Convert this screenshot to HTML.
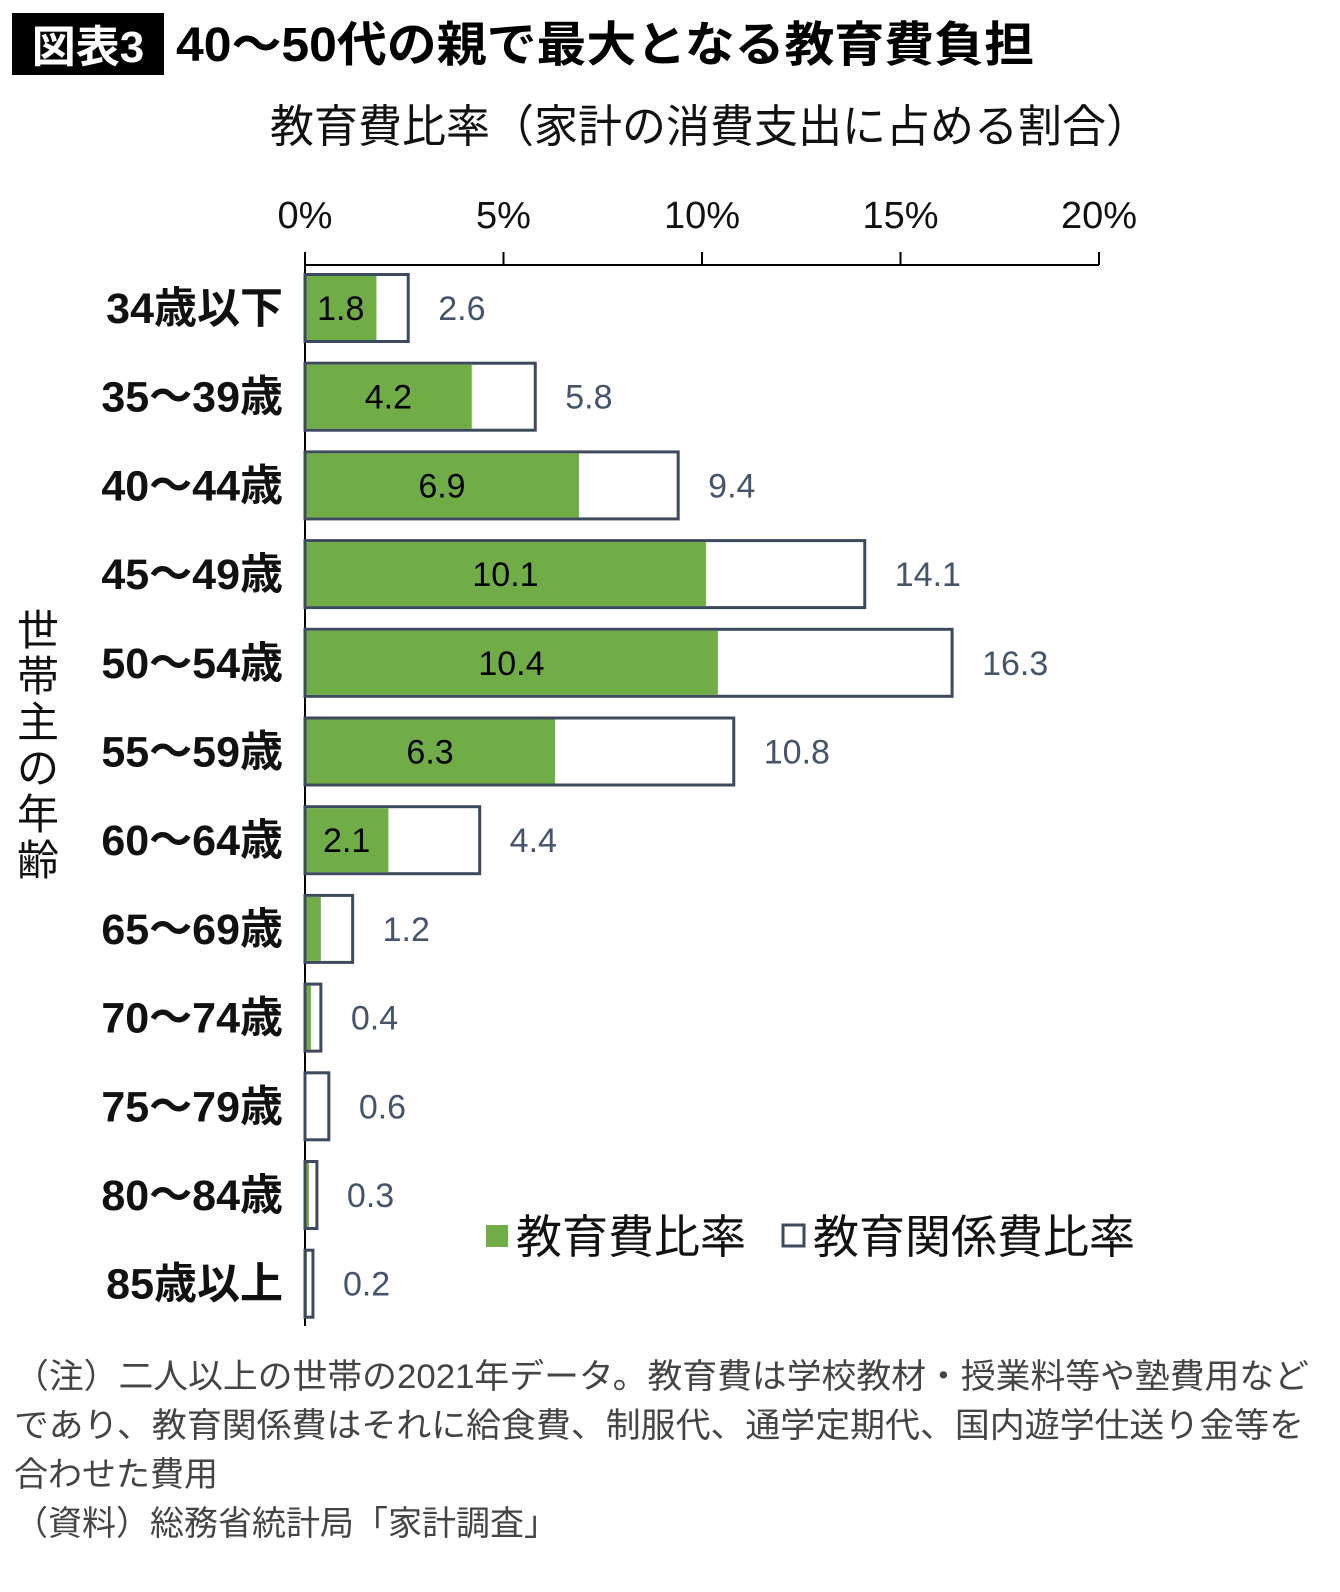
<!DOCTYPE html>
<html><head><meta charset="utf-8">
<style>
body{margin:0;background:#fff;width:1340px;height:1592px;overflow:hidden;font-family:"Liberation Sans","Noto Sans CJK JP",sans-serif;}
svg{position:absolute;left:0;top:0}
text{font-family:"Liberation Sans","Noto Sans CJK JP",sans-serif;}
</style></head><body>
<svg id="c" width="1340" height="1592"></svg>
<script>
const categories=["34歳以下","35～39歳","40～44歳","45～49歳","50～54歳","55～59歳","60～64歳","65～69歳","70～74歳","75～79歳","80～84歳","85歳以上"];
const eduValues=[1.8,4.2,6.9,10.1,10.4,6.3,2.1,0.4,0.15,0,0.1,0.05];
const eduLabels=["1.8","4.2","6.9","10.1","10.4","6.3","2.1","","","","",""];
const relValues=[2.6,5.8,9.4,14.1,16.3,10.8,4.4,1.2,0.4,0.6,0.3,0.2];
const tickValues=[0,5,10,15,20];
const tickLabels=["0%","5%","10%","15%","20%"];

const svg=document.getElementById('c');
const NS='http://www.w3.org/2000/svg';
function mk(t,a,txt){const e=document.createElementNS(NS,t);for(const k in a)e.setAttribute(k,a[k]);if(txt!==undefined)e.textContent=txt;svg.appendChild(e);return e;}
const x=v=>305+v*39.7;
const y=i=>308+i*88.7;
const bh=67;

let e;
e=mk('rect',{x:12,y:13,width:152,height:62,fill:'#000'});

e=mk('text',{x:88,y:62,'font-size':44,'font-weight':'bold',fill:'#fff','text-anchor':'middle'},'図表3');

e=mk('text',{x:176,y:61,'font-size':48,'font-weight':'bold',fill:'#000',textLength:858,lengthAdjust:'spacingAndGlyphs'},'40～50代の親で最大となる教育費負担');

e=mk('text',{x:270,y:142,'font-size':45,fill:'#111',textLength:880,lengthAdjust:'spacingAndGlyphs'},'教育費比率（家計の消費支出に占める割合）');


e=mk('line',{x1:305,y1:265,x2:1099,y2:265,stroke:'#000','stroke-width':2});

e=mk('line',{x1:305,y1:252,x2:305,y2:1326,stroke:'#000','stroke-width':2});

tickValues.forEach((v,i)=>{
  let t=mk('line',{x1:x(v),y1:252,x2:x(v),y2:265,stroke:'#000','stroke-width':2});
  
  let l=mk('text',{x:x(v),y:228,'font-size':38,fill:'#111','text-anchor':'middle'},tickLabels[i]);
  
});

categories.forEach((c,i)=>{
  const cy=y(i);
  let l=mk('text',{x:283,y:cy+15,'font-size':43,'font-weight':'bold',fill:'#111','text-anchor':'end'},c);
  
  let r=mk('rect',{x:x(0),y:cy-bh/2,width:x(relValues[i])-x(0),height:bh,fill:'#fff',stroke:'#3d4a5e','stroke-width':3});
  
  if(eduValues[i]>0){
    let g=mk('rect',{x:x(0)+1.5,y:cy-bh/2+1.5,width:Math.max(0,x(eduValues[i])-x(0)-1.5),height:bh-3,fill:'#70ad47'});
    
  }
  if(eduLabels[i]){
    let t=mk('text',{x:(x(0)+x(eduValues[i]))/2,y:cy+12,'font-size':34,fill:'#000','text-anchor':'middle'},eduLabels[i]);
    
  }
  let t=mk('text',{x:x(relValues[i])+30,y:cy+12,'font-size':34,fill:'#44546a'},String(relValues[i]));
  
});

const yt="世帯主の年齢";
for(let k=0;k<yt.length;k++){
  let t=mk('text',{x:38,y:645+k*46,'font-size':42,fill:'#111','text-anchor':'middle'},yt[k]);
  
}

e=mk('rect',{x:486,y:1225,width:22,height:22,fill:'#70ad47'});

e=mk('text',{x:516,y:1253,'font-size':46,fill:'#111'},'教育費比率');

e=mk('rect',{x:783,y:1225,width:21,height:21,fill:'#fff',stroke:'#3d4a5e','stroke-width':3});

e=mk('text',{x:813,y:1253,'font-size':46,fill:'#111'},'教育関係費比率');


const notes=["（注）二人以上の世帯の2021年データ。教育費は学校教材・授業料等や塾費用など","であり、教育関係費はそれに給食費、制服代、通学定期代、国内遊学仕送り金等を","合わせた費用","（資料）総務省統計局「家計調査」"];
const noteW=[1295,1290,0,0];
notes.forEach((n,k)=>{
  const a={x:14,y:1388+k*49,'font-size':34,fill:'#444'};
  if(noteW[k]){a.textLength=noteW[k];a.lengthAdjust='spacingAndGlyphs';}
  let t=mk('text',a,n);
  
});
</script>
</body></html>
